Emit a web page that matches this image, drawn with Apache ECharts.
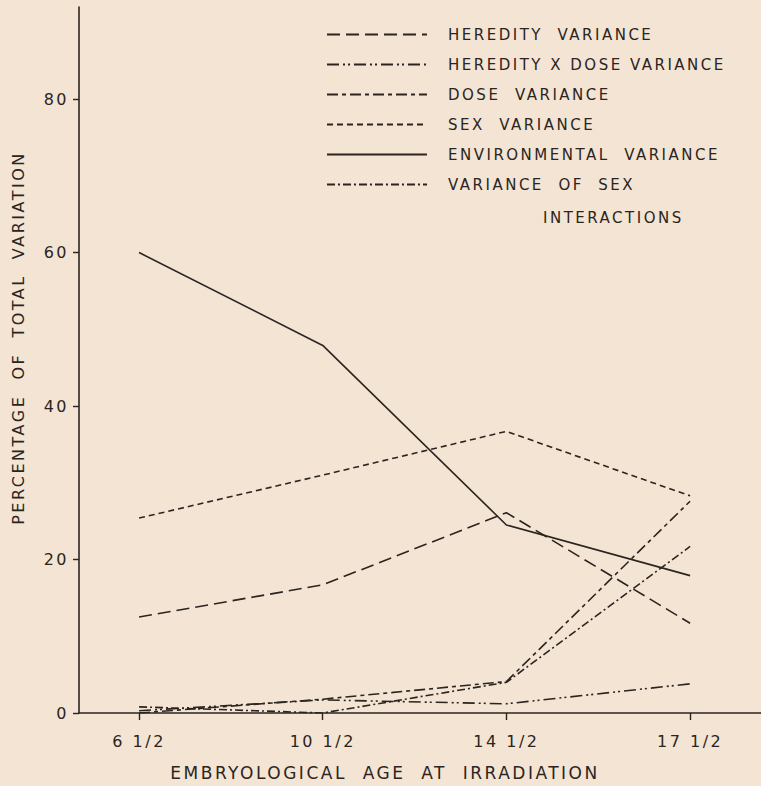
<!DOCTYPE html>
<html>
<head>
<meta charset="utf-8">
<script src="https://cdn.jsdelivr.net/npm/echarts@6/dist/echarts.min.js"></script>
<style>
  html, body { margin: 0; padding: 0; background: #f3e4d4; }
  #chart { width: 761px; height: 786px; }
  #chart text { letter-spacing: 2.5px; }
</style>
</head>
<body>
<div id="chart"></div>
<script>
// Category positions (index on x axis) and their labels
var ageLabels = ['6 1/2', '10 1/2', '14 1/2', '17 1/2'];
var agePositions = [0, 1, 2, 3];
var yTicks = [0, 20, 40, 60, 80];

// Series values (percentage of total variation)
var heredity        = [12.5, 16.7, 26.1, 11.7];
var heredityXDose   = [0.3, 1.7, 1.2, 3.8];
var dose            = [0.0, 1.8, 4.1, 27.6];
var sex             = [25.4, 31.0, 36.7, 28.3];
var environmental   = [60.0, 47.9, 24.5, 17.9];
var sexInteractions = [0.8, 0.0, 4.0, 21.7];

var seriesNames = [
  'HEREDITY  VARIANCE',
  'HEREDITY X DOSE VARIANCE',
  'DOSE  VARIANCE',
  'SEX  VARIANCE',
  'ENVIRONMENTAL  VARIANCE',
  'VARIANCE  OF  SEX'
];
var seriesValues = [heredity, heredityXDose, dose, sex, environmental, sexInteractions];
var dashTypes = [
  [13, 6],
  [12, 4, 2, 3, 2, 4],
  [11, 4, 4, 4],
  [6, 4],
  'solid',
  [8, 3, 2, 3]
];

var ink = '#2b2420';
var font = 'DejaVu Sans';

function pairs(vals) {
  return vals.map(function (v, i) { return [agePositions[i], v]; });
}

var chart = echarts.init(document.getElementById('chart'), null, { renderer: 'svg' });

var series = seriesValues.map(function (vals, i) {
  return {
    name: seriesNames[i],
    type: 'line',
    data: pairs(vals),
    symbol: 'none',
    showSymbol: false,
    lineStyle: { color: ink, width: 1.6, type: dashTypes[i] },
    itemStyle: { color: ink },
    emphasis: { disabled: true },
    animation: false
  };
});

chart.setOption({
  backgroundColor: '#f3e4d4',
  animation: false,
  grid: { left: 79, right: 0, top: 7, bottom: 73, containLabel: false },
  legend: {
    orient: 'vertical',
    left: 321,
    top: 22,
    itemWidth: 100,
    itemHeight: 14,
    itemGap: 15,
    selectedMode: false,
    itemStyle: { opacity: 0, borderWidth: 0 },
    textStyle: { color: ink, fontFamily: font, fontSize: 15, padding: [0, 0, 0, 16] },
    data: seriesNames
  },
  xAxis: {
    type: 'value',
    min: -0.327,
    max: 3.386,
    splitLine: { show: false },
    axisLine: { show: true, onZero: false, lineStyle: { color: ink, width: 1.6 } },
    axisTick: { show: true, length: 7, customValues: agePositions, lineStyle: { color: ink, width: 1.4 } },
    axisLabel: {
      customValues: agePositions,
      color: ink, fontFamily: font, fontSize: 16, margin: 20,
      formatter: function (v) { return ageLabels[Math.round(v)]; }
    }
  },
  yAxis: {
    type: 'value',
    min: 0,
    max: 92,
    interval: 20,
    splitLine: { show: false },
    axisLine: { show: true, onZero: false, lineStyle: { color: ink, width: 1.6 } },
    axisTick: { show: true, length: 6, customValues: yTicks, lineStyle: { color: ink, width: 1.4 } },
    axisLabel: { customValues: yTicks, color: ink, fontFamily: font, fontSize: 16, margin: 10 }
  },
  graphic: [
    {
      type: 'text', x: 18, y: 338, rotation: Math.PI / 2,
      style: { text: 'PERCENTAGE  OF  TOTAL  VARIATION', fill: ink, font: '16px "DejaVu Sans"', textAlign: 'center', textVerticalAlign: 'middle' }
    },
    {
      type: 'text', x: 385, y: 773,
      style: { text: 'EMBRYOLOGICAL  AGE  AT  IRRADIATION', fill: ink, font: '17px "DejaVu Sans"', textAlign: 'center', textVerticalAlign: 'middle' }
    },
    {
      type: 'text', x: 543, y: 218,
      style: { text: 'INTERACTIONS', fill: ink, font: '15px "DejaVu Sans"', textAlign: 'left', textVerticalAlign: 'middle' }
    }
  ],
  series: series
});
</script>
</body>
</html>
